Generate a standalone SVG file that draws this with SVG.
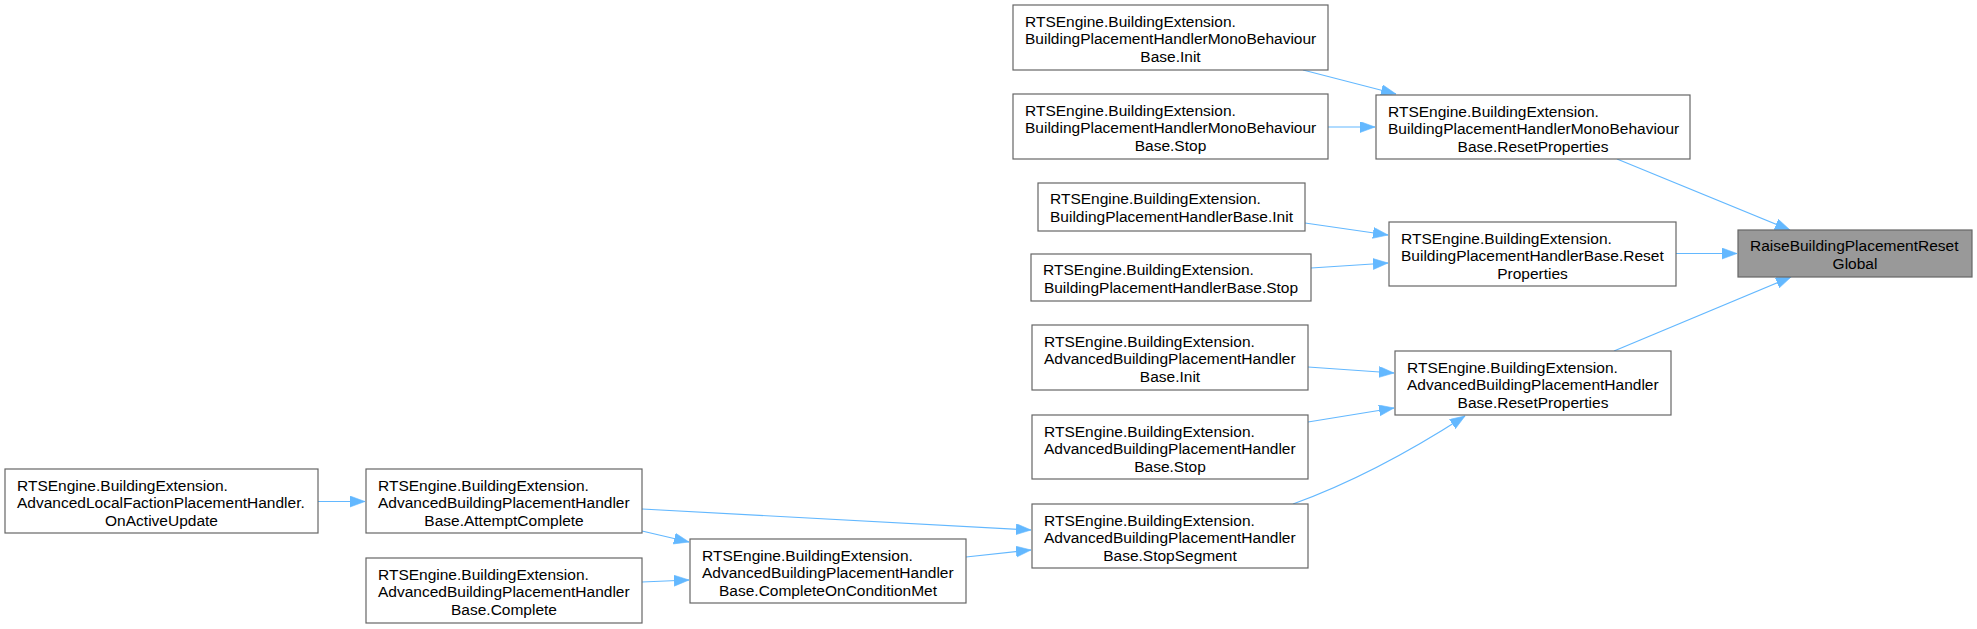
<svg xmlns="http://www.w3.org/2000/svg" width="1977" height="629" viewBox="0 0 1977 629">
<style>
.n rect{fill:#ffffff;stroke:#666666;stroke-width:1.2}
#raise rect{fill:#999999;stroke:#666666}
text{font-family:"Liberation Sans",Arial,sans-serif;font-size:15.5px;fill:#000000}
.c{text-anchor:middle}
.e path{fill:none;stroke:#63b8ff;stroke-width:1.2;marker-end:url(#ah)}
</style>
<defs>
<marker id="ah" markerUnits="userSpaceOnUse" markerWidth="16" markerHeight="12" refX="15" refY="5.5" orient="auto">
<path d="M0,0 L15,5.5 L0,11 z" fill="#63b8ff" stroke="#63b8ff" stroke-width="0.6"/>
</marker>
</defs>
<rect width="1977" height="629" fill="#ffffff"/>
<g class="e" id="connectors">
<path d="M1617,159 L1790,230"/>
<path d="M1676,253.5 L1737,253.5"/>
<path d="M1614,351 L1791,277"/>
<path d="M1303,70 L1396,94"/>
<path d="M1328,127 L1375,127"/>
<path d="M1305,223 L1388,235"/>
<path d="M1311,268 L1388,263"/>
<path d="M1308,367 L1394,373"/>
<path d="M1308,422 L1394,408"/>
<path d="M1293,504 C1340,487 1400,458 1465,416"/>
<path d="M642,509 L1031,530"/>
<path d="M642,531 L689,542"/>
<path d="M642,582 L689,580"/>
<path d="M966,557 L1031,550"/>
<path d="M318,501.5 L365,501.5"/>
</g>
<g class="n" id="raise"><rect x="1738" y="230" width="234" height="47"/><text x="1750" y="251">RaiseBuildingPlacementReset</text><text class="c" x="1855" y="268.5">Global</text></g>
<g class="n" id="monoReset"><rect x="1376" y="95" width="314" height="64"/><text x="1388" y="116.5">RTSEngine.BuildingExtension.</text><text x="1388" y="134">BuildingPlacementHandlerMonoBehaviour</text><text class="c" x="1533" y="151.5">Base.ResetProperties</text></g>
<g class="n" id="monoInit"><rect x="1013" y="5" width="315" height="65"/><text x="1025" y="26.5">RTSEngine.BuildingExtension.</text><text x="1025" y="44">BuildingPlacementHandlerMonoBehaviour</text><text class="c" x="1170.5" y="61.5">Base.Init</text></g>
<g class="n" id="monoStop"><rect x="1013" y="94" width="315" height="65"/><text x="1025" y="115.5">RTSEngine.BuildingExtension.</text><text x="1025" y="133">BuildingPlacementHandlerMonoBehaviour</text><text class="c" x="1170.5" y="150.5">Base.Stop</text></g>
<g class="n" id="bphReset"><rect x="1389" y="222" width="287" height="64"/><text x="1401" y="243.5">RTSEngine.BuildingExtension.</text><text x="1401" y="261">BuildingPlacementHandlerBase.Reset</text><text class="c" x="1532.5" y="278.5">Properties</text></g>
<g class="n" id="bphInit"><rect x="1038" y="183" width="267" height="48"/><text x="1050" y="204">RTSEngine.BuildingExtension.</text><text class="c" x="1171.5" y="221.5">BuildingPlacementHandlerBase.Init</text></g>
<g class="n" id="bphStop"><rect x="1031" y="254" width="280" height="47"/><text x="1043" y="275">RTSEngine.BuildingExtension.</text><text class="c" x="1171" y="292.5">BuildingPlacementHandlerBase.Stop</text></g>
<g class="n" id="advReset"><rect x="1395" y="351" width="276" height="64"/><text x="1407" y="372.5">RTSEngine.BuildingExtension.</text><text x="1407" y="390">AdvancedBuildingPlacementHandler</text><text class="c" x="1533" y="407.5">Base.ResetProperties</text></g>
<g class="n" id="advInit"><rect x="1032" y="325" width="276" height="65"/><text x="1044" y="346.5">RTSEngine.BuildingExtension.</text><text x="1044" y="364">AdvancedBuildingPlacementHandler</text><text class="c" x="1170" y="381.5">Base.Init</text></g>
<g class="n" id="advStop"><rect x="1032" y="415" width="276" height="64"/><text x="1044" y="436.5">RTSEngine.BuildingExtension.</text><text x="1044" y="454">AdvancedBuildingPlacementHandler</text><text class="c" x="1170" y="471.5">Base.Stop</text></g>
<g class="n" id="stopSegment"><rect x="1032" y="504" width="276" height="64"/><text x="1044" y="525.5">RTSEngine.BuildingExtension.</text><text x="1044" y="543">AdvancedBuildingPlacementHandler</text><text class="c" x="1170" y="560.5">Base.StopSegment</text></g>
<g class="n" id="attemptComplete"><rect x="366" y="469" width="276" height="64"/><text x="378" y="490.5">RTSEngine.BuildingExtension.</text><text x="378" y="508">AdvancedBuildingPlacementHandler</text><text class="c" x="504" y="525.5">Base.AttemptComplete</text></g>
<g class="n" id="complete"><rect x="366" y="558" width="276" height="65"/><text x="378" y="579.5">RTSEngine.BuildingExtension.</text><text x="378" y="597">AdvancedBuildingPlacementHandler</text><text class="c" x="504" y="614.5">Base.Complete</text></g>
<g class="n" id="completeOnConditionMet"><rect x="690" y="539" width="276" height="64"/><text x="702" y="560.5">RTSEngine.BuildingExtension.</text><text x="702" y="578">AdvancedBuildingPlacementHandler</text><text class="c" x="828" y="595.5">Base.CompleteOnConditionMet</text></g>
<g class="n" id="onActiveUpdate"><rect x="5" y="469" width="313" height="64"/><text x="17" y="490.5">RTSEngine.BuildingExtension.</text><text x="17" y="508">AdvancedLocalFactionPlacementHandler.</text><text class="c" x="161.5" y="525.5">OnActiveUpdate</text></g>
</svg>
